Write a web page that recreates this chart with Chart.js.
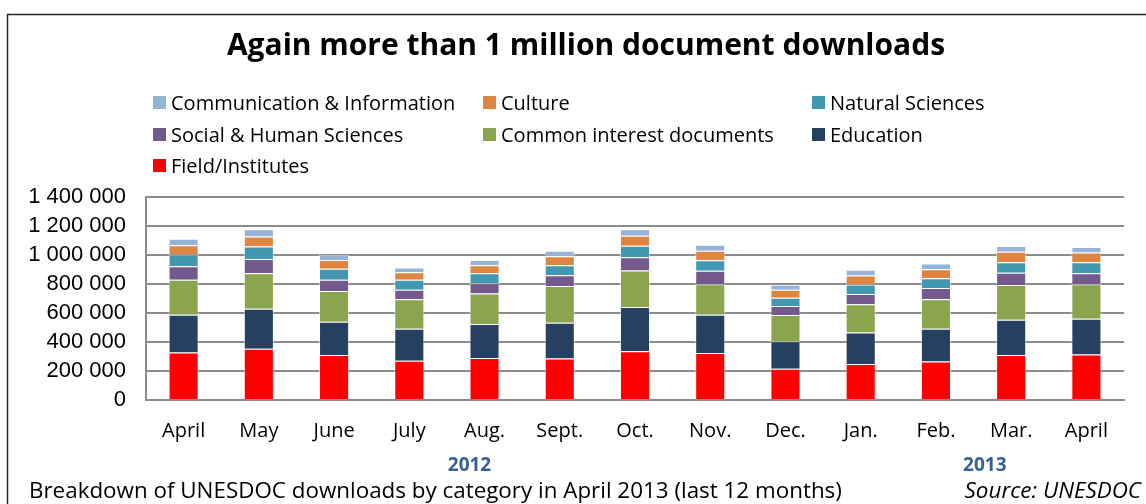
<!DOCTYPE html>
<html>
<head>
<meta charset="utf-8">
<script src="https://cdn.jsdelivr.net/npm/chart.js@4/dist/chart.umd.min.js"></script>
<style>
  html, body { margin: 0; padding: 0; background: #fff; }
  #wrap { position: relative; width: 1146px; height: 504px; }
</style>
</head>
<body>
<div id="wrap"><canvas id="c" width="1146" height="504"></canvas></div>
<script>
// ---- data ----
const categories = ["April", "May", "June", "July", "Aug.", "Sept.", "Oct.", "Nov.", "Dec.", "Jan.", "Feb.", "Mar.", "April"];
const fieldInstitutes   = [328000, 353000, 310000, 271000, 290000, 287000, 337000, 324000, 215000, 249000, 266000, 310000, 314000];
const education         = [260000, 276000, 230000, 221000, 234000, 246000, 305000, 264000, 191000, 216000, 226000, 243000, 246000];
const commonInterest    = [241000, 246000, 211000, 203000, 210000, 253000, 251000, 211000, 180000, 196000, 203000, 240000, 239000];
const socialHuman       = [93000, 98000, 78000, 66000, 72000, 75000, 91000, 92000, 63000, 70000, 77000, 84000, 76000];
const naturalSciences   = [82000, 86000, 76000, 68000, 69000, 68000, 80000, 72000, 57000, 66000, 68000, 73000, 75000];
const culture           = [64000, 68000, 61000, 52000, 54000, 62000, 68000, 67000, 55000, 62000, 62000, 73000, 68000];
const commInfo          = [44000, 51000, 36000, 32000, 37000, 39000, 46000, 41000, 34000, 39000, 39000, 39000, 37000];
const yearLabels = ["2012", "2013"];
const yearPositions = [3.8, 10.65];
const yTicks = [0, 200000, 400000, 600000, 800000, 1000000, 1200000, 1400000];
const titleText = "Again more than 1 million document downloads";
const captionText = "Breakdown of UNESDOC downloads by category in April 2013 (last 12 months)";
const sourceText = "Source: UNESDOC";

const seriesDefs = [
  { label: "Field/Institutes", data: fieldInstitutes, color: "#FF0000" },
  { label: "Education", data: education, color: "#254061" },
  { label: "Common interest documents", data: commonInterest, color: "#8AA54D" },
  { label: "Social & Human Sciences", data: socialHuman, color: "#745A8C" },
  { label: "Natural Sciences", data: naturalSciences, color: "#4298B0" },
  { label: "Culture", data: culture, color: "#DE8540" },
  { label: "Communication & Information", data: commInfo, color: "#95B3D7" }
];

const fmt = v => String(v).replace(/\B(?=(\d{3})+(?!\d))/g, " ");

const decor = {
  id: "decor",
  beforeDraw(chart) {
    const ctx = chart.ctx;
    ctx.save();
    ctx.fillStyle = "#fff";
    ctx.fillRect(0, 0, chart.width, chart.height);
    ctx.strokeStyle = "#262626";
    ctx.lineWidth = 1.5;
    ctx.beginPath();
    ctx.moveTo(7.5, 520);
    ctx.lineTo(7.5, 14.5);
    ctx.lineTo(1146, 14.5);
    ctx.stroke();
    ctx.restore();
  },
  afterDraw(chart) {
    const ctx = chart.ctx;
    ctx.save();
    // title
    ctx.fillStyle = "#000";
    ctx.textAlign = "center";
    ctx.textBaseline = "middle";
    ctx.font = "bold 30px 'Open Sans'";
    ctx.fillText(titleText, 586, 46);
    // legend (reverse order, 3 columns)
    const ds = chart.data.datasets.slice().reverse();
    const colX = [153, 483, 812];
    const rowY = [103, 135, 166];
    ctx.font = "20px 'Open Sans'";
    ctx.textAlign = "left";
    ds.forEach((d, i) => {
      const cx = colX[i % 3], cy = rowY[Math.floor(i / 3)];
      ctx.fillStyle = d.backgroundColor;
      ctx.fillRect(cx, cy - 7, 13, 13);
      ctx.fillStyle = "#000";
      ctx.fillText(d.label, cx + 18, cy + 1);
    });
    // year labels
    const xs = chart.scales.x;
    ctx.font = "bold 19px 'Open Sans'";
    ctx.fillStyle = "#376092";
    ctx.textAlign = "center";
    yearLabels.forEach((t, i) => {
      const p = xs.left + (yearPositions[i] + 0.5) * (xs.width / categories.length);
      ctx.fillText(t, p, 466);
    });
    // caption & source
    ctx.fillStyle = "#000";
    ctx.font = "22.4px 'Open Sans'";
    ctx.textAlign = "left";
    ctx.fillText(captionText, 29, 492);
    ctx.font = "italic 22.4px 'Open Sans'";
    ctx.textAlign = "right";
    ctx.fillText(sourceText, 1141, 492);
    ctx.restore();
  }
};

new Chart(document.getElementById("c"), {
  type: "bar",
  data: {
    labels: categories,
    datasets: seriesDefs.map(s => ({
      label: s.label,
      data: s.data,
      backgroundColor: s.color,
      borderColor: "rgba(255,255,255,0.55)",
      borderWidth: 1,
      categoryPercentage: 1.0,
      barPercentage: 0.4
    }))
  },
  options: {
    responsive: false,
    animation: false,
    devicePixelRatio: 1,
    layout: { padding: { top: 197, right: 22, left: 0, bottom: 0 } },
    plugins: { legend: { display: false }, title: { display: false }, tooltip: { enabled: false } },
    scales: {
      x: {
        stacked: true,
        grid: { display: false, drawTicks: false },
        border: { display: true, color: "#8c8c8c", width: 2 },
        ticks: { color: "#000", font: { family: "'Open Sans'", size: 20 }, padding: 19, maxRotation: 0, autoSkip: false },
        afterFit(scale) { scale.height = 104; }
      },
      y: {
        stacked: true,
        min: 0,
        max: 1400000,
        afterBuildTicks(scale) { scale.ticks = yTicks.map(v => ({ value: v })); },
        grid: { color: "#8c8c8c", lineWidth: 2, drawTicks: false },
        border: { display: true, color: "#8c8c8c", width: 2 },
        ticks: { color: "#000", font: { family: "'Liberation Sans'", size: 22 }, padding: 20, autoSkip: false, callback: v => fmt(v) },
        afterFit(scale) { scale.width = 146; }
      }
    }
  },
  plugins: [decor]
});
</script>
</body>
</html>
